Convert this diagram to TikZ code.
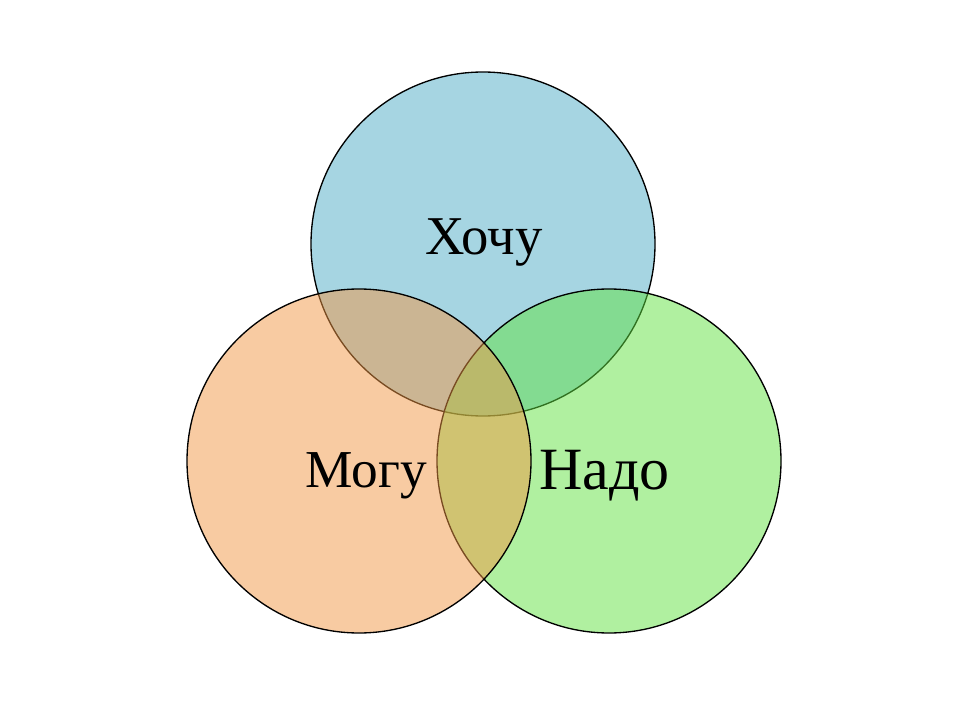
\documentclass[tikz,border=0pt]{standalone}
\usepackage{fontspec}
\setmainfont{Liberation Serif}
\usepackage{tikz}

\definecolor{khochublue}{RGB}{77,171,197}
\definecolor{nadogreen}{RGB}{97,225,65}
\definecolor{moguorange}{RGB}{241,151,69}

\tikzset{
  venn/.style={draw=black, line width=1pt, fill opacity=0.5},
  vennlabel/.style={anchor=base, inner sep=0.75pt, font=\fontsize{40}{48}\selectfont}
}

\begin{document}
\begin{tikzpicture}[x=0.75pt,y=0.75pt,yscale=-1,xscale=1]
%set diagram left start at 0, and has height of 720
\useasboundingbox (0,0) rectangle (960,720);

%Shape: Circle [id:khochu]
\draw [venn, fill=khochublue]   (483,244) circle [x radius= 172, y radius= 172]   ;
%Shape: Circle [id:nado]
\draw [venn, fill=nadogreen]   (609,461) circle [x radius= 172, y radius= 172]   ;
%Shape: Circle [id:mogu]
\draw [venn, fill=moguorange]   (359,461) circle [x radius= 172, y radius= 172]   ;

% Text Node
\node (khochutext) [vennlabel, font=\fontsize{41}{49}\selectfont] at (484,255) {Хочу};
% Text Node
\node (mogutext) [vennlabel] at (366,487) {Могу};
% Text Node
\node (nadotext) [vennlabel, font=\fontsize{45}{54}\selectfont] at (604.5,489) {Надо};

\end{tikzpicture}
\end{document}
